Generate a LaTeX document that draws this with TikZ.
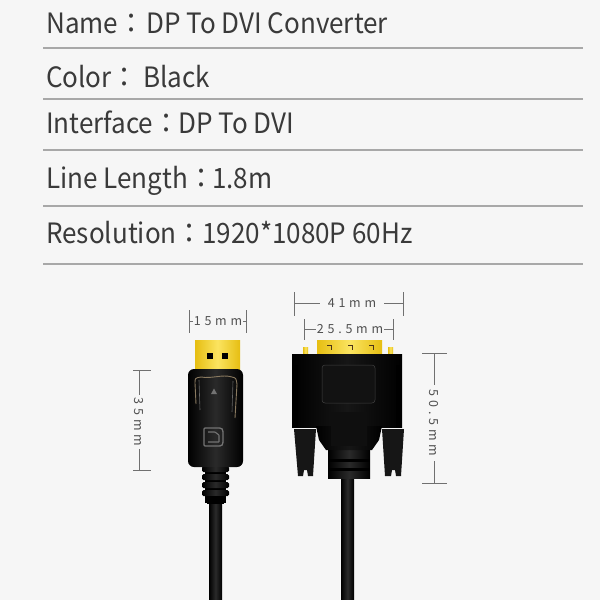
\documentclass[tikz,border=0pt]{standalone}
\usepackage{fontspec}
\setmainfont[FakeStretch=0.93]{Noto Sans CJK TC}
\newfontfamily\dimfont[LetterSpace=30]{Noto Sans CJK TC}
\definecolor{bg}{HTML}{F6F6F6}
\definecolor{sepc}{HTML}{A8A8A8}
\definecolor{txt}{HTML}{3A3A3A}
\definecolor{dimc}{HTML}{707070}
\definecolor{dimt}{HTML}{505050}
\definecolor{blk}{HTML}{161616}
\definecolor{blk2}{HTML}{2A2A2A}
\definecolor{gold1}{HTML}{E6BE12}
\definecolor{gold2}{HTML}{FBE460}
\definecolor{latch}{HTML}{8A7A60}
\tikzset{
  lbl/.style={anchor=base west, inner sep=0pt, text=txt, font=\fontsize{28}{30}\selectfont},
  sepline/.style={draw=sepc, line width=1.6pt},
  dimline/.style={draw=dimc, line width=0.8pt},
  dimlbl/.style={inner sep=1pt, fill=bg, text=dimt, font=\dimfont\fontsize{12.5}{13}\selectfont},
  cablebody/.style={left color=black, right color=black, middle color=blk2},
  goldfill/.style={left color=gold1, right color=gold1, middle color=gold2},
}
\begin{document}
\begin{tikzpicture}[x=1pt,y=-1pt]
\useasboundingbox (0,0) rectangle (600,600);
\fill[bg] (0,0) rectangle (600,600);

% ---- specification table ----
\node[lbl] (n1) at (46,33) {Name：};
\node[lbl] (v1) at (146,33) {DP To DVI Converter};
\node[lbl] (n2) at (46,87) {Color：};
\node[lbl] (v2) at (143,87) {Black};
\node[lbl] (n3) at (46,133) {Interface：};
\node[lbl] (v3) at (178,133) {DP To DVI};
\node[lbl] (n4) at (46,188) {Line Length：};
\node[lbl] (v4) at (212,188) {1.8m};
\node[lbl] (n5) at (46,243) {Resolution：};
\node[lbl] (v5) at (202,243) {1920*1080P 60Hz};

\coordinate (s1a) at (43,48);  \coordinate (s1b) at (583,48);
\coordinate (s2a) at (43,99);  \coordinate (s2b) at (583,99);
\coordinate (s3a) at (43,150); \coordinate (s3b) at (583,150);
\coordinate (s4a) at (43,206); \coordinate (s4b) at (583,206);
\coordinate (s5a) at (43,264); \coordinate (s5b) at (583,264);
\draw[sepline] (s1a) -- (s1b);
\draw[sepline] (s2a) -- (s2b);
\draw[sepline] (s3a) -- (s3b);
\draw[sepline] (s4a) -- (s4b);
\draw[sepline] (s5a) -- (s5b);

% ---- DP connector ----
% cable
\shade[cablebody] (209,500) rectangle (222,600);
% strain relief
\fill[black] (205,464) rectangle (226,503);
\foreach \y in {466,474,482,490} {
  \shade[cablebody, rounded corners=1.5pt] (202,\y) rectangle (229,\y+6);
}
\fill[black] (207,496) rectangle (224,504);
% gold plug
\shade[goldfill] (195,340) rectangle (240,372);
\fill[black] (207,353) rectangle (212.5,358.5);
\fill[black] (222,353) rectangle (227.5,358.5);
% body
\shade[left color=black, right color=black, middle color=blk2, rounded corners=6pt]
  (188,369) rectangle (243,467);
% latch outline
\draw[latch, line width=0.9pt]
  (196,404) -- (195,383) .. controls (195,378) .. (201,377)
  .. controls (212,379) and (222,374) .. (232,377)
  .. controls (236,378) .. (237,384) -- (235,418);
\draw[black!60, line width=0.6pt] (199,380) -- (200,410);
\draw[black!60, line width=0.6pt] (233,381) -- (232,412);
% triangle
\fill[black!55] (211,394) -- (217,394) -- (214,388.5) -- cycle;
% DP logo
\draw[black!55, line width=1.3pt, rounded corners=1pt]
  (204,428) -- (215,428) .. controls (223,428) .. (223,437) .. controls (223,446) .. (215,446) -- (204,446) -- cycle;
\draw[black!55, line width=1.1pt, rounded corners=0.5pt] (208,432) -- (215,432) -- (219,435) -- (219,442) -- (208,442);

% 15mm dimension
\coordinate (a15l) at (189,321); \coordinate (a15r) at (246,321);
\draw[dimline] (189,310) -- (189,333);
\draw[dimline] (246,310) -- (246,333);
\draw[dimline] (a15l) -- (a15r);
\node[dimlbl] (d15) at (218,321) {15mm};
% 35mm dimension
\coordinate (a35t) at (139,370); \coordinate (a35b) at (139,470);
\draw[dimline] (133,370) -- (151,370);
\draw[dimline] (133,470) -- (151,470);
\draw[dimline] (a35t) -- (a35b);
\node[dimlbl, rotate=-90, inner xsep=3pt] (d35) at (139,422) {35mm};

% ---- DVI connector ----
% cable
\shade[cablebody] (341,476) rectangle (354,600);
% strain relief
\shade[cablebody] (328,448) rectangle (370,478);
\fill[black] (328,459) rectangle (370,461.5);
\fill[black] (328,468) rectangle (370,470.5);
% gold pins and screws
\shade[goldfill] (317,340) rectangle (382,355);
\foreach \x in {327,348,369} {
  \draw[black!60!brown, line width=0.8pt] (\x,345) -- (\x+4,345) -- (\x+4,350);
}
\shade[goldfill] (303,347) rectangle (308,355);
\shade[goldfill] (388,347) rectangle (393,355);
% main block
\shade[left color=black, right color=black, middle color=blk] (292,354) rectangle (402,427);
\fill[black] (292,365) rectangle (298,427);
\fill[black] (396,365) rectangle (402,427);
% tapering lower body
\shade[left color=black, right color=black, middle color=blk]
  (316,426) -- (382,426) -- (379,440) -- (372,450) -- (326,450) -- (319,440) -- cycle;
% raised panels (subtle)
\fill[blk!80!black, rounded corners=3pt] (322,365) rectangle (375,403);
\draw[black!75, line width=0.5pt, rounded corners=3pt] (322,365) rectangle (375,403);
\fill[blk!70!black] (331,412) rectangle (367,446);
% thumbscrews
\fill[blk] (294,429) -- (316,429) -- (313,476) -- (308,476) -- (307,470) -- (304,470) -- (303,476) -- (298,476) -- cycle;
\fill[blk] (382,429) -- (404,429) -- (401,476) -- (396,476) -- (395,470) -- (392,470) -- (391,476) -- (385,476) -- cycle;

% 41mm dimension
\coordinate (a41l) at (294,303); \coordinate (a41r) at (403,303);
\draw[dimline] (294,292) -- (294,316);
\draw[dimline] (403,292) -- (403,316);
\draw[dimline] (a41l) -- (a41r);
\node[dimlbl, inner xsep=8pt] (d41) at (352,303) {41mm};
% 25.5mm dimension
\coordinate (a25l) at (304,329); \coordinate (a25r) at (393,329);
\draw[dimline] (304,319) -- (304,340);
\draw[dimline] (393,319) -- (393,340);
\draw[dimline] (a25l) -- (a25r);
\node[dimlbl] (d25) at (350,329) {25.5mm};
% 50.5mm dimension
\coordinate (a50t) at (434,353); \coordinate (a50b) at (434,483);
\draw[dimline] (422,353) -- (447,353);
\draw[dimline] (422,483) -- (447,483);
\draw[dimline] (a50t) -- (a50b);
\node[dimlbl, rotate=-90, inner xsep=5pt] (d50) at (434,423) {50.5mm};
\end{tikzpicture}
\end{document}
